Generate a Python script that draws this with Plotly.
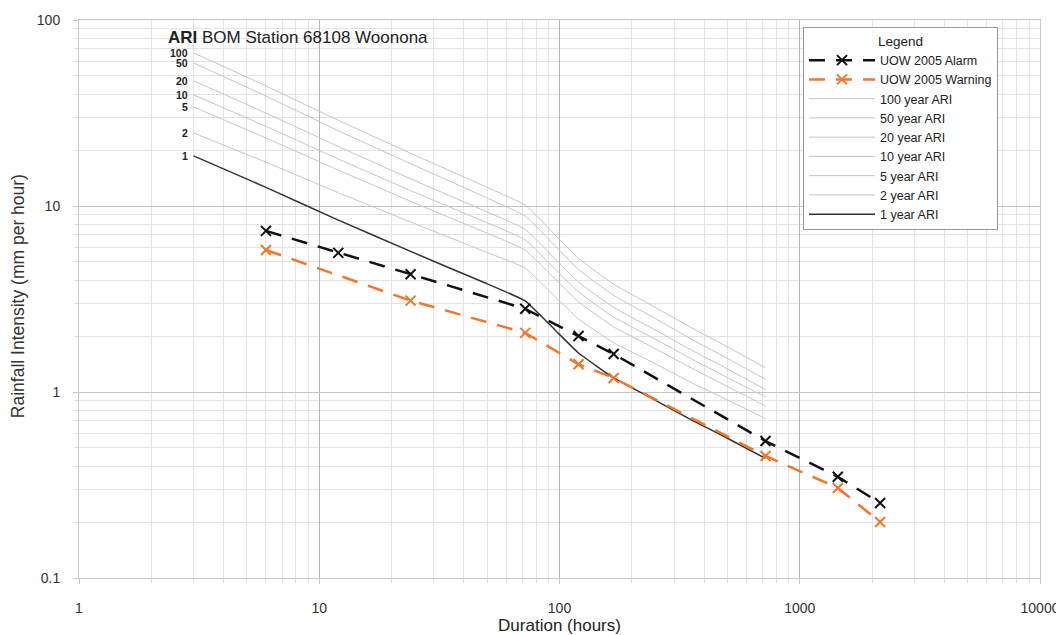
import math
import plotly.graph_objects as go

# ---- data ----
durations = [3, 6, 12, 24, 48, 72, 96, 120, 168, 240, 360, 480, 720]
ari_1 = [18.6, 12.6, 8.4, 5.7, 3.9, 3.09, 2.15, 1.62, 1.19, 0.93, 0.70, 0.58, 0.44]
ari_2 = [24.7, 17.2, 11.8, 8.2, 5.74, 4.63, 3.25, 2.47, 1.84, 1.46, 1.11, 0.93, 0.72]
ari_5 = [34.1, 23.2, 15.6, 10.6, 7.3, 5.79, 4.04, 3.05, 2.24, 1.76, 1.33, 1.10, 0.84]
ari_10 = [39.6, 26.8, 17.9, 12.1, 8.3, 6.58, 4.58, 3.45, 2.53, 1.98, 1.49, 1.23, 0.94]
ari_20 = [47.1, 31.6, 20.9, 14.0, 9.5, 7.49, 5.19, 3.90, 2.85, 2.22, 1.66, 1.37, 1.03]
ari_50 = [58.8, 39.0, 25.4, 16.9, 11.3, 8.84, 6.10, 4.56, 3.31, 2.56, 1.90, 1.56, 1.17]
ari_100 = [66.6, 44.2, 28.9, 19.2, 12.9, 10.1, 6.98, 5.23, 3.80, 2.94, 2.19, 1.80, 1.35]

alarm_x = [6, 12, 24, 72, 120, 168, 720, 1440, 2160]
alarm_y = [7.35, 5.6, 4.3, 2.8, 2.0, 1.6, 0.545, 0.35, 0.253]
warning_x = [6, 24, 72, 120, 168, 720, 1440, 2160]
warning_y = [5.8, 3.1, 2.08, 1.41, 1.19, 0.453, 0.305, 0.2]

grey_series = [("100", ari_100), ("50", ari_50), ("20", ari_20), ("10", ari_10),
               ("5", ari_5), ("2", ari_2)]

x_ticks = [1, 10, 100, 1000, 10000]
x_ticktext = ["1", "10", "100", "1000", "10000"]
y_ticks = [0.1, 1, 10, 100]
y_ticktext = ["0.1", "1", "10", "100"]

FONT = "Arial, Liberation Sans, sans-serif"
ORANGE = "#f2762c"

fig = go.Figure()

rank = 3
for lab, vals in grey_series:
    fig.add_trace(go.Scatter(x=durations, y=vals, mode="lines",
                             name=f"{lab} year ARI", line_shape="spline",
                             line=dict(color="#c4c4c4", width=1, smoothing=0.4),
                             legendrank=rank, hoverinfo="skip"))
    rank += 1

fig.add_trace(go.Scatter(x=durations, y=ari_1, mode="lines", name="1 year ARI",
                         line_shape="spline",
                         line=dict(color="#333333", width=1.5, smoothing=0.3),
                         legendrank=rank))

fig.add_trace(go.Scatter(x=warning_x, y=warning_y, mode="lines+markers",
                         name="UOW 2005 Warning",
                         line=dict(color=ORANGE, width=2.5, dash="16px,11px"),
                         marker=dict(symbol="x-thin", size=10,
                                     line=dict(color=ORANGE, width=2)),
                         legendrank=2))
fig.add_trace(go.Scatter(x=alarm_x, y=alarm_y, mode="lines+markers",
                         name="UOW 2005 Alarm",
                         line=dict(color="#111111", width=2.5, dash="16px,11px"),
                         marker=dict(symbol="x-thin", size=10,
                                     line=dict(color="#111111", width=2)),
                         legendrank=1))

# ARI labels near the start of each curve
for lab, vals in grey_series + [("1", ari_1)]:
    fig.add_annotation(x=math.log10(durations[0]), y=math.log10(vals[0]),
                       xref="x", yref="y", text=f"<b>{lab}</b>",
                       showarrow=False, xanchor="right", xshift=-4,
                       font=dict(family=FONT, size=10.5, color="#222"))

fig.add_annotation(x=0.0905, y=0.9695, xref="paper", yref="paper",
                   text="<b>ARI</b> BOM Station 68108 Woonona",
                   showarrow=False, xanchor="left", yanchor="middle",
                   font=dict(family=FONT, size=17, color="#222"))

# y-axis title
fig.add_annotation(x=-0.0635, y=0.505, xref="paper", yref="paper",
                   text="Rainfall Intensity (mm per hour)", textangle=-90,
                   showarrow=False, xanchor="center", yanchor="middle",
                   font=dict(family=FONT, size=17.5, color="#333"))

minor_x = [m * d for d in [1, 10, 100, 1000] for m in range(2, 10)]
minor_y = [m * d for d in [0.1, 1, 10] for m in range(2, 10)]

fig.update_xaxes(type="log", range=[0, 4], tickvals=x_ticks, ticktext=x_ticktext,
                 automargin=False,
                 showgrid=True, gridcolor="#b5b5b5", gridwidth=1,
                 ticks="outside", ticklen=5, tickcolor="#c8c8c8",
                 ticklabelstandoff=12,
                 minor=dict(tickvals=minor_x, showgrid=True, gridcolor="#e3e3e3",
                            ticks="outside", ticklen=4, tickcolor="#dddddd"),
                 showline=True, linecolor="#c8c8c8", mirror=True, zeroline=False,
                 title=dict(text="Duration (hours)", standoff=4,
                            font=dict(family=FONT, size=17, color="#222")),
                 tickfont=dict(family=FONT, size=14, color="#333"))
fig.update_yaxes(type="log", range=[-1, 2], tickvals=y_ticks, ticktext=y_ticktext,
                 automargin=False,
                 showgrid=True, gridcolor="#c4c4c4", gridwidth=1,
                 ticks="outside", ticklen=5, tickcolor="#c8c8c8",
                 ticklabelstandoff=10,
                 minor=dict(tickvals=minor_y, showgrid=True, gridcolor="#e3e3e3",
                            ticks="outside", ticklen=4, tickcolor="#dddddd"),
                 showline=True, linecolor="#c8c8c8", mirror=True, zeroline=False,
                 tickfont=dict(family=FONT, size=14, color="#333"))

# the page body adds an 8px offset, so the figure is sized to fit the window
fig.update_layout(
    width=1056, height=627,
    margin=dict(l=71, r=24, t=12, b=57),
    paper_bgcolor="white", plot_bgcolor="white",
    font=dict(family=FONT, color="#222"),
    showlegend=True,
    legend=dict(x=0.7534, y=0.9875, xanchor="left", yanchor="top",
                bgcolor="white", bordercolor="#999999", borderwidth=1,
                font=dict(family=FONT, size=12.5, color="#222"),
                title=dict(text="Legend", side="top center",
                           font=dict(family=FONT, size=13.5, color="#222")),
                tracegroupgap=0, itemwidth=66, traceorder="normal"),
)

fig.write_html("out.html")
